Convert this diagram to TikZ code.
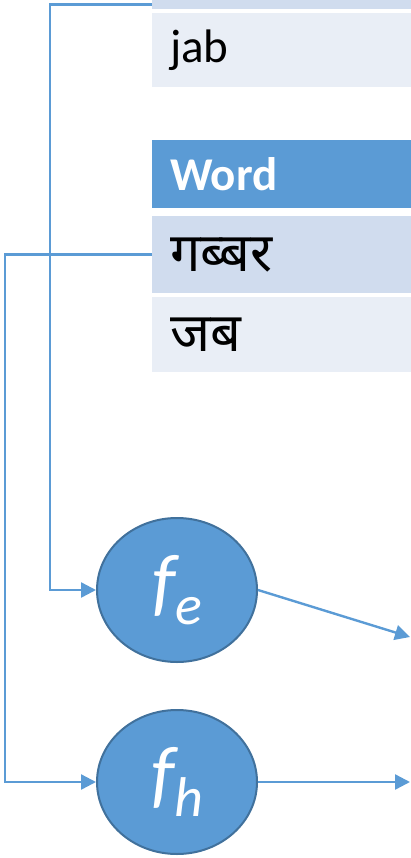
\documentclass[tikz,border=0pt]{standalone}
\usepackage{fontspec}
\setmainfont{Carlito}
\newfontfamily\devfont[Script=Devanagari]{Noto Sans}
\usetikzlibrary{arrows.meta,shapes.geometric}
\definecolor{hdr}{HTML}{5B9BD5}
\definecolor{rowa}{HTML}{D0DCEE}
\definecolor{rowb}{HTML}{E9EEF6}
\definecolor{edge}{HTML}{41719C}
\begin{document}
\begin{tikzpicture}[x=1pt,y=-1pt,
  row/.style={inner ysep=0pt,inner xsep=18pt,anchor=north west,minimum width=259pt,text width=223pt,align=left},
  fnode/.style={ellipse,draw=edge,line width=2pt,fill=hdr,minimum width=160pt,minimum height=144pt,inner sep=0pt,text=white,font=\itshape\fontsize{76}{76}\selectfont},
  link/.style={draw=hdr,line width=2.4pt,-{Triangle[length=15pt,width=15pt]}}]
\useasboundingbox (0,0) rectangle (411,858);

% table
\node[row,fill=rowa,minimum height=9pt] (top) at (152,0) {};
\node[row,fill=rowb,minimum height=74pt,font=\fontsize{47}{52}\selectfont] (jab) at (152,13) {jab};
\node[row,fill=hdr,minimum height=68pt,text=white,font=\bfseries\fontsize{47}{52}\selectfont] (head) at (152,140) {Word};
\node[row,fill=rowa,minimum height=77pt,font=\devfont\fontsize{54}{60}\selectfont] (gabbar) at (152,216) {गब्बर};
\node[row,fill=rowb,minimum height=75pt,font=\devfont\fontsize{54}{60}\selectfont] (jab2) at (152,297) {जब};

% functions
\node[fnode] (fe) at (177,590) {f\raisebox{-17pt}{\fontsize{56}{56}\selectfont e}};
\node[fnode] (fh) at (177,782) {f\raisebox{-17pt}{\fontsize{56}{56}\selectfont h}};
\coordinate (eout) at (410,637);
\coordinate (hout) at (410,782);

\draw[link] (top.west) -- ++(-102,0) |- (fe.west);
\draw[link] (gabbar.west) -- ++(-147,0) |- (fh.west);
\draw[link] (fe.east) -- (eout);
\draw[link] (fh.east) -- (hout);
\end{tikzpicture}
\end{document}
